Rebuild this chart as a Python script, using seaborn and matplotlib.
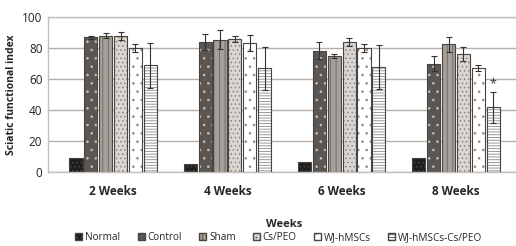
import pandas as pd
import matplotlib.pyplot as plt
import seaborn as sns
from matplotlib.patches import Rectangle

# Values
weeks = ["2 Weeks", "4 Weeks", "6 Weeks", "8 Weeks"]
groups = ["Normal", "Control", "Sham", "Cs/PEO", "WJ-hMSCs", "WJ-hMSCs-Cs/PEO"]
normal = [9, 5, 6.5, 9]
control = [87, 84, 78.5, 70]
sham = [88, 85.5, 75, 82.5]
cs_peo = [88, 86, 84, 76]
wj = [80, 83.5, 80, 67]
wj_cs = [69, 67, 68, 42]
err_normal = [0, 0, 0, 0]
err_control = [1, 5, 5.5, 5]
err_sham = [1.5, 6, 1, 5]
err_cs_peo = [2.5, 2, 2.5, 4.5]
err_wj = [2.5, 5, 2.5, 2]
err_wj_cs = [14.5, 14, 14, 10]

vals = [normal, control, sham, cs_peo, wj, wj_cs]
errs = [err_normal, err_control, err_sham, err_cs_peo, err_wj, err_wj_cs]

df = pd.DataFrame({
    "week": weeks * len(groups),
    "group": [g for g in groups for _ in weeks],
    "value": [v for vs in vals for v in vs],
})

sns.set_style("white")
plt.rcParams["font.family"] = ["Open Sans", "DejaVu Sans"]
plt.rcParams["hatch.linewidth"] = 0.6

faces = ["#1e1e1e", "#5e5650", "#a8a098", "#dcd6d0", "#ffffff", "#ffffff"]
hatch_cols = ["#4a4a4a", "#c8c0b8", "#6e665e", "#8a8480", "#8a8a8a", "#888888"]
hatches = ["....", "..", "|||", "....", "..", "------"]

fig, ax = plt.subplots(figsize=(5.16, 2.46), dpi=100)
sns.barplot(data=df, x="week", y="value", hue="group", palette=faces,
            errorbar=None, width=0.78, gap=0.12, ax=ax, legend=True)

bar_conts = list(ax.containers)

# style bars: hatch drawn in edgecolor, separate dark outline
for i, cont in enumerate(bar_conts):
    for p, e in zip(cont.patches, errs[i]):
        p.set_hatch(hatches[i])
        p.set_edgecolor(hatch_cols[i])
        p.set_linewidth(0)
        ax.add_patch(Rectangle(p.get_xy(), p.get_width(), p.get_height(),
                               fill=False, edgecolor="#4a4440", lw=0.8, zorder=3))
        if e > 0:
            ax.errorbar(p.get_x() + p.get_width() / 2, p.get_height(), yerr=e,
                        color="#333333", lw=0.8, capsize=2, capthick=0.8, zorder=4)

# significance mark on 8-week WJ-hMSCs-Cs/PEO
p = bar_conts[5].patches[3]
ax.text(p.get_x() + p.get_width() / 2, wj_cs[3] + err_wj_cs[3] + 1, "*",
        ha="center", va="bottom", fontsize=9, color="#333333")

ax.set_ylim(0, 100)
ax.set_yticks([0, 20, 40, 60, 80, 100])
ax.yaxis.grid(True, color="#b4b0ac", lw=1)
ax.set_axisbelow(True)
for s in ax.spines.values():
    s.set_color("#c4c0bc")
    s.set_linewidth(1)
ax.spines["right"].set_visible(False)
ax.tick_params(axis="y", labelsize=8.5, length=0, pad=4, colors="#222222")
ax.tick_params(axis="x", labelsize=8.5, length=0, pad=9)
for t in ax.get_xticklabels():
    t.set_fontweight("bold")
ax.set_xlabel("Weeks", fontsize=8, fontweight="bold", labelpad=15)
ax.set_ylabel("Sciatic functional index", fontsize=7.5, fontweight="bold", labelpad=4)

# legend below
handles, labels = ax.get_legend_handles_labels()
for i, h in enumerate(handles):
    h.set_hatch(hatches[i])
    h.set_edgecolor("#4a4440")
ax.legend(handles, labels, loc="lower center", bbox_to_anchor=(0.54, -0.025),
          bbox_transform=fig.transFigure, ncol=6, frameon=False, fontsize=7.2,
          handlelength=0.7, handleheight=0.7, handletextpad=0.3, columnspacing=1.7)

fig.subplots_adjust(left=0.093, right=1.01, top=0.93, bottom=0.30)
fig.savefig("out.png", dpi=100)
